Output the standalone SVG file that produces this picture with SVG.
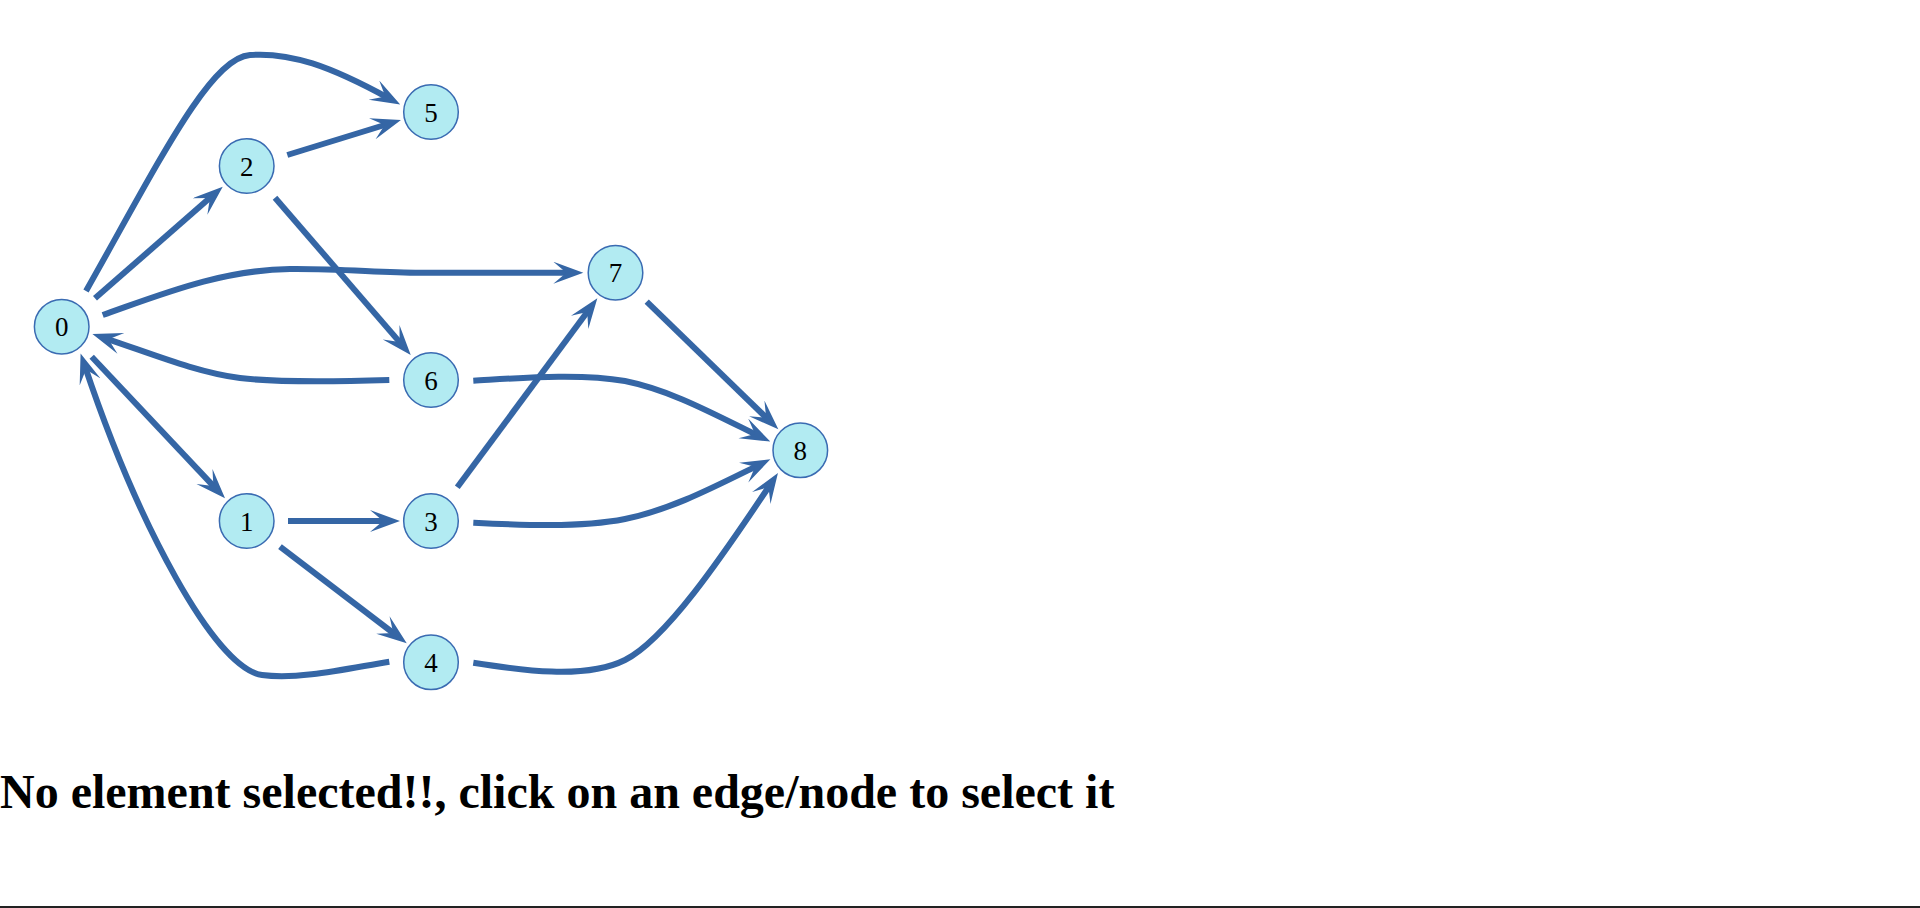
<svg xmlns="http://www.w3.org/2000/svg" width="1920" height="908" viewBox="0 0 1920 908">
<style>
.edge{fill:none;stroke:#3566a5;stroke-width:6;marker-end:url(#vee)}
.node circle{fill:#b2ebf2;stroke:#3a6bb2;stroke-width:1.5}
.node text{font-family:"Liberation Serif","Times New Roman",serif;font-size:27px;fill:#000;text-anchor:middle}
.title{font-family:"Liberation Serif","Times New Roman",serif;font-size:48px;font-weight:bold;fill:#000}
</style>
<defs>
<marker id="vee" markerUnits="userSpaceOnUse" markerWidth="32" markerHeight="24" refX="18" refY="11" orient="auto" viewBox="0 0 32 24">
<path d="M0,0 L30,11 L0,22 L13,11 z" fill="#3566a5"/>
</marker>
</defs>
<rect width="1920" height="908" fill="#fff"/>
<g id="edges">
<path class="edge" d="M95,298.3 L213.7,194.6"/>
<path class="edge" d="M86,291 C160,160 210,58 250,55 C290,52 330,66 389.7,98.8"/>
<path class="edge" d="M287.3,155 L389.5,123.5"/>
<path class="edge" d="M275,197.7 L402.9,345.9"/>
<path class="edge" d="M102.7,315 C160,295 220,270 290,269 C340,268.5 380,272.7 420,272.7 L571.3,272.7"/>
<path class="edge" d="M389.3,380 C340,381.5 280,383 240,378 C195,372 150,353 103.8,337.8"/>
<path class="edge" d="M91.7,356.7 L216.8,489.6"/>
<path class="edge" d="M389.3,661.7 C350,668 300,680 262,675 C215,668 138,525 84.4,364.8"/>
<path class="edge" d="M288,521 L388,521"/>
<path class="edge" d="M280,546.7 L397.2,636"/>
<path class="edge" d="M457.3,487.3 L590.2,308"/>
<path class="edge" d="M473.3,522.7 C520,525 580,528 625,519 C670,510 712,488 759.6,464.6"/>
<path class="edge" d="M473.3,380.7 C520,378 580,373 625,381 C670,390 712,413 759.5,436.3"/>
<path class="edge" d="M646.7,301.7 L769.7,421"/>
<path class="edge" d="M473.3,662.7 C520,670 585,680 625,660 C665,640 720,560 771.3,483"/>
</g>
<g id="node-0" class="node"><circle cx="61.7" cy="326.7" r="27.3"/><text x="61.7" y="336.2">0</text></g>
<g id="node-1" class="node"><circle cx="246.7" cy="521" r="27.3"/><text x="246.7" y="530.5">1</text></g>
<g id="node-2" class="node"><circle cx="246.7" cy="166" r="27.3"/><text x="246.7" y="175.5">2</text></g>
<g id="node-3" class="node"><circle cx="431" cy="521" r="27.3"/><text x="431" y="530.5">3</text></g>
<g id="node-4" class="node"><circle cx="431" cy="662.3" r="27.3"/><text x="431" y="671.8">4</text></g>
<g id="node-5" class="node"><circle cx="431" cy="112" r="27.3"/><text x="431" y="121.5">5</text></g>
<g id="node-6" class="node"><circle cx="431" cy="380" r="27.3"/><text x="431" y="389.5">6</text></g>
<g id="node-7" class="node"><circle cx="615.5" cy="272.7" r="27.3"/><text x="615.5" y="282.2">7</text></g>
<g id="node-8" class="node"><circle cx="800.3" cy="450.3" r="27.3"/><text x="800.3" y="459.8">8</text></g>
<text class="title" x="0" y="808">No element selected!!, click on an edge/node to select it</text>
<rect x="0" y="906" width="1920" height="2" fill="#222"/>
</svg>
